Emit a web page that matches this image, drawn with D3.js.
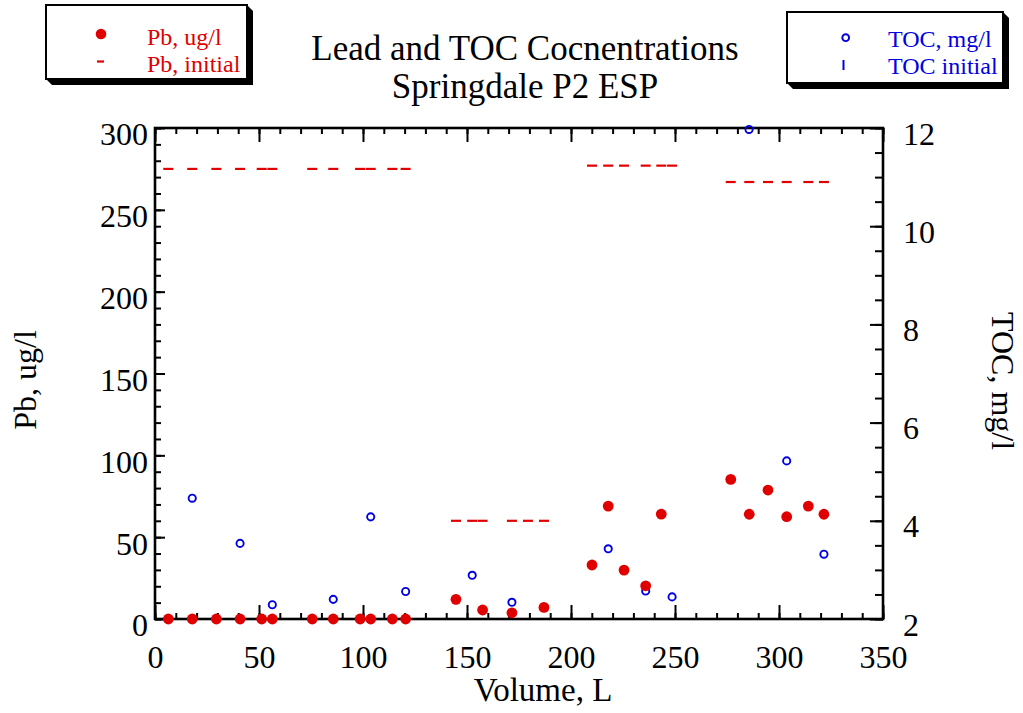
<!DOCTYPE html>
<html>
<head>
<meta charset="utf-8">
<script src="https://cdn.jsdelivr.net/npm/d3@7"></script>
<style>
  html, body { margin: 0; padding: 0; background: #fff; }
  svg { display: block; }
  text { font-family: "Liberation Serif", "Times New Roman", serif; }
</style>
</head>
<body>
<svg id="chart" width="1023" height="713"></svg>
<script>
// Measured lead (ug/l) by cumulative volume (L)
const pbVolume = [6.4, 17.9, 29.5, 40.9, 51.3, 56.4, 75.6, 85.7, 98.6, 103.7, 114.1, 120.5,
                  144.7, 157.5, 171.6, 187.0, 210.1, 217.9, 225.5, 235.9, 243.4,
                  276.8, 285.7, 294.7, 303.7, 314.1, 321.6];
const pbValues = [0, 0, 0, 0, 0, 0, 0, 0, 0, 0, 0, 0,
                  12.0, 5.5, 3.8, 7.1, 33.0, 69.0, 29.9, 20.3, 64.1,
                  85.3, 64.0, 78.8, 62.5, 69.0, 64.0];

// Initial lead level for each sample
const pbInitVolume = [6.4, 17.9, 29.5, 40.9, 51.3, 56.4, 75.6, 85.7, 98.6, 103.7, 114.1, 120.5,
                      144.7, 152.5, 157.5, 171.6, 179.3, 187.0,
                      210.1, 217.9, 225.5, 235.9, 243.4, 248.6,
                      276.8, 285.7, 294.7, 303.7, 314.1, 321.6];
const pbInitValues = [275, 275, 275, 275, 275, 275, 275, 275, 275, 275, 275, 275,
                      60, 60, 60, 60, 60, 60,
                      277, 277, 277, 277, 277, 277,
                      267, 267, 267, 267, 267, 267];

// Total organic carbon (mg/l)
const tocVolume = [17.9, 40.9, 56.4, 85.7, 103.7, 120.5, 152.5, 171.6, 217.9, 235.9, 248.6, 285.6, 303.7, 321.6];
const tocValues = [4.46, 3.54, 2.29, 2.40, 4.08, 2.56, 2.89, 2.34, 3.43, 2.57, 2.45, 11.97, 5.22, 3.32];

// Axis ticks
const xMajorTicks = [0, 50, 100, 150, 200, 250, 300, 350];
const pbMajorTicks = [0, 50, 100, 150, 200, 250, 300];
const tocMajorTicks = [2, 4, 6, 8, 10, 12];

const titleLines = ["Lead and TOC Cocnentrations", "Springdale P2 ESP"];

const RED = "#e00000";
const BLUE = "#0000e0";

const svg = d3.select("#chart");

const x = d3.scaleLinear().domain([0, 350]).range([155, 883]);
const yPb = d3.scaleLinear().domain([0, 300]).range([619, 128]);
const yToc = d3.scaleLinear().domain([2, 12]).range([619, 128]);

const xMinor = d3.range(0, 351, 10);
const pbMinor = d3.range(0, 301, 10);
const tocMinor = d3.range(2, 12.01, 0.5);

function styleAxis(g, size) {
  g.selectAll("path.domain").remove();
  g.selectAll("line").attr("stroke", "#000").attr("stroke-width", 2);
  g.selectAll("text").attr("font-size", size).attr("fill", "#000")
    .attr("font-family", "'Liberation Serif', 'Times New Roman', serif");
}

// Minor ticks (no labels)
svg.append("g").attr("transform", "translate(0,619)")
  .call(d3.axisBottom(x).tickValues(xMinor).tickSize(-6).tickFormat(""))
  .call(g => styleAxis(g, 0));
svg.append("g").attr("transform", "translate(0,128)")
  .call(d3.axisTop(x).tickValues(xMinor).tickSize(-6).tickFormat(""))
  .call(g => styleAxis(g, 0));
svg.append("g").attr("transform", "translate(155,0)")
  .call(d3.axisLeft(yPb).tickValues(pbMinor).tickSize(-6).tickFormat(""))
  .call(g => styleAxis(g, 0));
svg.append("g").attr("transform", "translate(883,0)")
  .call(d3.axisRight(yToc).tickValues(tocMinor).tickSize(-8).tickFormat(""))
  .call(g => styleAxis(g, 0));

// Major ticks with labels
svg.append("g").attr("transform", "translate(0,619)")
  .call(d3.axisBottom(x).tickValues(xMajorTicks).tickSizeInner(-14).tickSizeOuter(0).tickPadding(26))
  .call(g => styleAxis(g, 32));
svg.append("g").attr("transform", "translate(0,128)")
  .call(d3.axisTop(x).tickValues(xMajorTicks).tickSizeInner(-14).tickSizeOuter(0).tickFormat(""))
  .call(g => styleAxis(g, 0));
svg.append("g").attr("transform", "translate(155,0)")
  .call(d3.axisLeft(yPb).tickValues(pbMajorTicks).tickSizeInner(-10).tickSizeOuter(0).tickPadding(7))
  .call(g => styleAxis(g, 32))
  .call(g => g.selectAll("text").attr("dy", "0.53em"));
svg.append("g").attr("transform", "translate(883,0)")
  .call(d3.axisRight(yToc).tickValues(tocMajorTicks).tickSizeInner(-13).tickSizeOuter(0).tickPadding(20))
  .call(g => styleAxis(g, 32))
  .call(g => g.selectAll("text").attr("dy", "0.5em"));

// Plot frame
svg.append("rect")
  .attr("x", x(0)).attr("y", yPb(300))
  .attr("width", x(350) - x(0)).attr("height", yPb(0) - yPb(300))
  .attr("fill", "none").attr("stroke", "#000").attr("stroke-width", 2.6);

// Initial lead dashes
svg.append("g").selectAll("line").data(pbInitVolume).join("line")
  .attr("x1", (d) => x(d) - 5).attr("x2", (d) => x(d) + 5)
  .attr("y1", (d, i) => yPb(pbInitValues[i])).attr("y2", (d, i) => yPb(pbInitValues[i]))
  .attr("stroke", RED).attr("stroke-width", 2.2);

// TOC open circles
svg.append("g").selectAll("circle").data(tocVolume).join("circle")
  .attr("cx", (d) => x(d)).attr("cy", (d, i) => yToc(tocValues[i]))
  .attr("r", 3.6).attr("fill", "none").attr("stroke", BLUE).attr("stroke-width", 1.9);

// Lead filled dots
svg.append("g").selectAll("circle").data(pbVolume).join("circle")
  .attr("cx", (d) => x(d)).attr("cy", (d, i) => yPb(pbValues[i]))
  .attr("r", 5.4).attr("fill", RED);

// Title
svg.append("g").selectAll("text").data(titleLines).join("text")
  .attr("x", 525).attr("y", (d, i) => 60 + i * 38)
  .attr("text-anchor", "middle").attr("font-size", 35).attr("fill", "#000")
  .text((d) => d);

// Axis titles
svg.append("text").attr("x", 543).attr("y", 701)
  .attr("text-anchor", "middle").attr("font-size", 33).text("Volume, L");
svg.append("text").attr("transform", "translate(36,380) rotate(-90)")
  .attr("text-anchor", "middle").attr("font-size", 32).text("Pb, ug/l");
svg.append("text").attr("transform", "translate(992,381) rotate(90)")
  .attr("text-anchor", "middle").attr("font-size", 32).text("TOC, mg/l");

// Legend box with a bevelled drop shadow
function legendBox(x0, y0, x1, y1, d) {
  const g = svg.append("g");
  g.append("path")
    .attr("d", `M${x1},${y0} L${x1 + d},${y0 + d} L${x1 + d},${y1 + d} L${x0 + d},${y1 + d} L${x0},${y1} Z`)
    .attr("fill", "#000");
  g.append("rect").attr("x", x0).attr("y", y0).attr("width", x1 - x0).attr("height", y1 - y0)
    .attr("fill", "#fff").attr("stroke", "#000").attr("stroke-width", 2);
  return g;
}

const legPb = legendBox(46, 5, 247, 79, 6);
legPb.append("circle").attr("cx", 101).attr("cy", 34).attr("r", 5.3).attr("fill", RED);
legPb.append("line").attr("x1", 97).attr("x2", 104).attr("y1", 61.5).attr("y2", 61.5)
  .attr("stroke", RED).attr("stroke-width", 2.2);
legPb.append("text").attr("x", 147).attr("y", 45).attr("font-size", 24).attr("fill", RED).text("Pb, ug/l");
legPb.append("text").attr("x", 147).attr("y", 72).attr("font-size", 24).attr("fill", RED).text("Pb, initial");

const legToc = legendBox(787, 12, 1003, 83, 6);
legToc.append("circle").attr("cx", 845.7).attr("cy", 37.7).attr("r", 3.4)
  .attr("fill", "none").attr("stroke", BLUE).attr("stroke-width", 1.9);
legToc.append("line").attr("x1", 843.5).attr("x2", 843.5).attr("y1", 60).attr("y2", 70)
  .attr("stroke", BLUE).attr("stroke-width", 2);
legToc.append("text").attr("x", 888).attr("y", 47).attr("font-size", 24).attr("fill", BLUE).text("TOC, mg/l");
legToc.append("text").attr("x", 888).attr("y", 73.5).attr("font-size", 24).attr("fill", BLUE).text("TOC initial");
</script>
</body>
</html>
